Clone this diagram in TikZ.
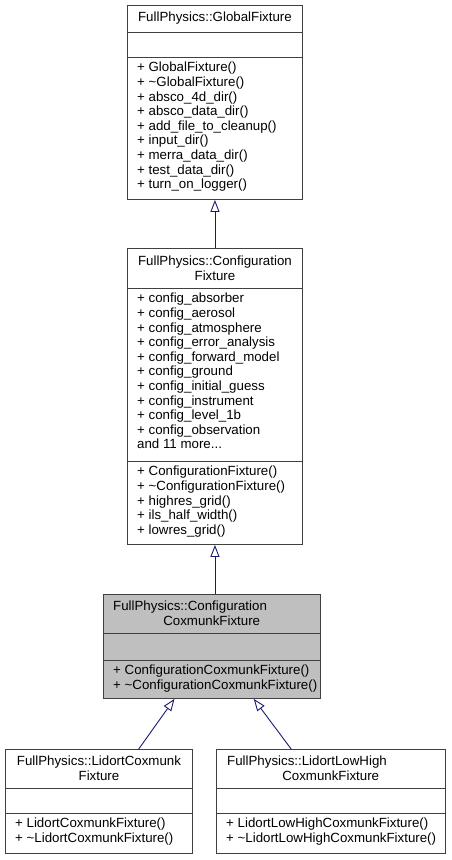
\documentclass[tikz,border=0pt]{standalone}
\usepackage{fontspec}
\setmainfont{Liberation Sans}
\usetikzlibrary{arrows.meta,calc}
\definecolor{edgeblue}{HTML}{191970}
\definecolor{boxgray}{HTML}{404040}
\definecolor{selgray}{HTML}{BFBFBF}
\begin{document}
\begin{tikzpicture}[x=1pt,y=-1pt]
	\tikzstyle{c} = [draw=boxgray, line width=0.9pt, rectangle, inner sep=0pt, anchor=north west]
	\tikzstyle{t} = [inner sep=0pt, font=\fontsize{13.3pt}{14.6pt}\selectfont, align=left, anchor=north west]
	\tikzstyle{h} = [inner sep=0pt, font=\fontsize{13.3pt}{14.6pt}\selectfont, align=center]
	\tikzstyle{sep} = [draw=boxgray, line width=0.9pt]
	\tikzstyle{inh} = [draw=edgeblue, line width=0.9pt, -{Triangle[open,length=12pt,width=9pt]}]
	\useasboundingbox (0,0) rectangle (451,860);

	% class boxes
	\node[c, minimum width=175pt, minimum height=194pt] (gf) at (127,5) {};
	\node[c, minimum width=175pt, minimum height=296pt] (cf) at (127,248) {};
	\node[c, fill=selgray, minimum width=217pt, minimum height=104pt] (ccf) at (103,594) {};
	\node[c, minimum width=187pt, minimum height=104pt] (lcf) at (5,749) {};
	\node[c, minimum width=229pt, minimum height=104pt] (llhcf) at (216,749) {};

	% GlobalFixture
	\draw[sep] ($(gf.north west)+(0,27)$) -- ($(gf.north east)+(0,27)$);
	\draw[sep] ($(gf.north west)+(0,52)$) -- ($(gf.north east)+(0,52)$);
	\node[h] (gf-name) at ($(gf.north)+(0,13.5)$) {FullPhysics::GlobalFixture};
	\node[t] (gf-ops) at ($(gf.north west)+(10,57)$) {+ GlobalFixture()\\+ \textasciitilde GlobalFixture()\\+ absco\_4d\_dir()\\+ absco\_data\_dir()\\+ add\_file\_to\_cleanup()\\+ input\_dir()\\+ merra\_data\_dir()\\+ test\_data\_dir()\\+ turn\_on\_logger()};

	% ConfigurationFixture
	\draw[sep] ($(cf.north west)+(0,40)$) -- ($(cf.north east)+(0,40)$);
	\draw[sep] ($(cf.north west)+(0,213)$) -- ($(cf.north east)+(0,213)$);
	\node[h] (cf-name) at ($(cf.north)+(0,20)$) {FullPhysics::Configuration\\Fixture};
	\node[t] (cf-attr) at ($(cf.north west)+(10,45)$) {+ config\_absorber\\+ config\_aerosol\\+ config\_atmosphere\\+ config\_error\_analysis\\+ config\_forward\_model\\+ config\_ground\\+ config\_initial\_guess\\+ config\_instrument\\+ config\_level\_1b\\+ config\_observation\\and 11 more...};
	\node[t] (cf-ops) at ($(cf.north west)+(10,218)$) {+ ConfigurationFixture()\\+ \textasciitilde ConfigurationFixture()\\+ highres\_grid()\\+ ils\_half\_width()\\+ lowres\_grid()};

	% ConfigurationCoxmunkFixture
	\draw[sep] ($(ccf.north west)+(0,39)$) -- ($(ccf.north east)+(0,39)$);
	\draw[sep] ($(ccf.north west)+(0,66)$) -- ($(ccf.north east)+(0,66)$);
	\node[t, anchor=west, text width=197pt] (ccf-name) at ($(ccf.north west)+(10,19.5)$) {FullPhysics::Configuration\\\hspace*{\fill}CoxmunkFixture\hspace*{\fill}\null};
	\node[t] (ccf-ops) at ($(ccf.north west)+(10,71)$) {+ ConfigurationCoxmunkFixture()\\+ \textasciitilde ConfigurationCoxmunkFixture()};

	% LidortCoxmunkFixture
	\draw[sep] ($(lcf.north west)+(0,39)$) -- ($(lcf.north east)+(0,39)$);
	\draw[sep] ($(lcf.north west)+(0,64)$) -- ($(lcf.north east)+(0,64)$);
	\node[h] (lcf-name) at ($(lcf.north)+(0,19.5)$) {FullPhysics::LidortCoxmunk\\Fixture};
	\node[t] (lcf-ops) at ($(lcf.north west)+(10,69)$) {+ LidortCoxmunkFixture()\\+ \textasciitilde LidortCoxmunkFixture()};

	% LidortLowHighCoxmunkFixture
	\draw[sep] ($(llhcf.north west)+(0,39)$) -- ($(llhcf.north east)+(0,39)$);
	\draw[sep] ($(llhcf.north west)+(0,64)$) -- ($(llhcf.north east)+(0,64)$);
	\node[t, anchor=west, text width=207pt] (llhcf-name) at ($(llhcf.north west)+(11,19.5)$) {FullPhysics::LidortLowHigh\\\hspace*{\fill}CoxmunkFixture\hspace*{\fill}\null};
	\node[t] (llhcf-ops) at ($(llhcf.north west)+(10,69)$) {+ LidortLowHighCoxmunkFixture()\\+ \textasciitilde LidortLowHighCoxmunkFixture()};

	% inheritance
	\draw[inh] (cf.north -| gf.south) -- (gf.south);
	\draw[inh] (ccf.north -| cf.south) -- (cf.south);
	\draw[inh] ([xshift=39.8pt]lcf.north) -- ([xshift=-37.5pt]ccf.south);
	\draw[inh] ([xshift=-39.8pt]llhcf.north) -- ([xshift=41.8pt]ccf.south);
\end{tikzpicture}
\end{document}
